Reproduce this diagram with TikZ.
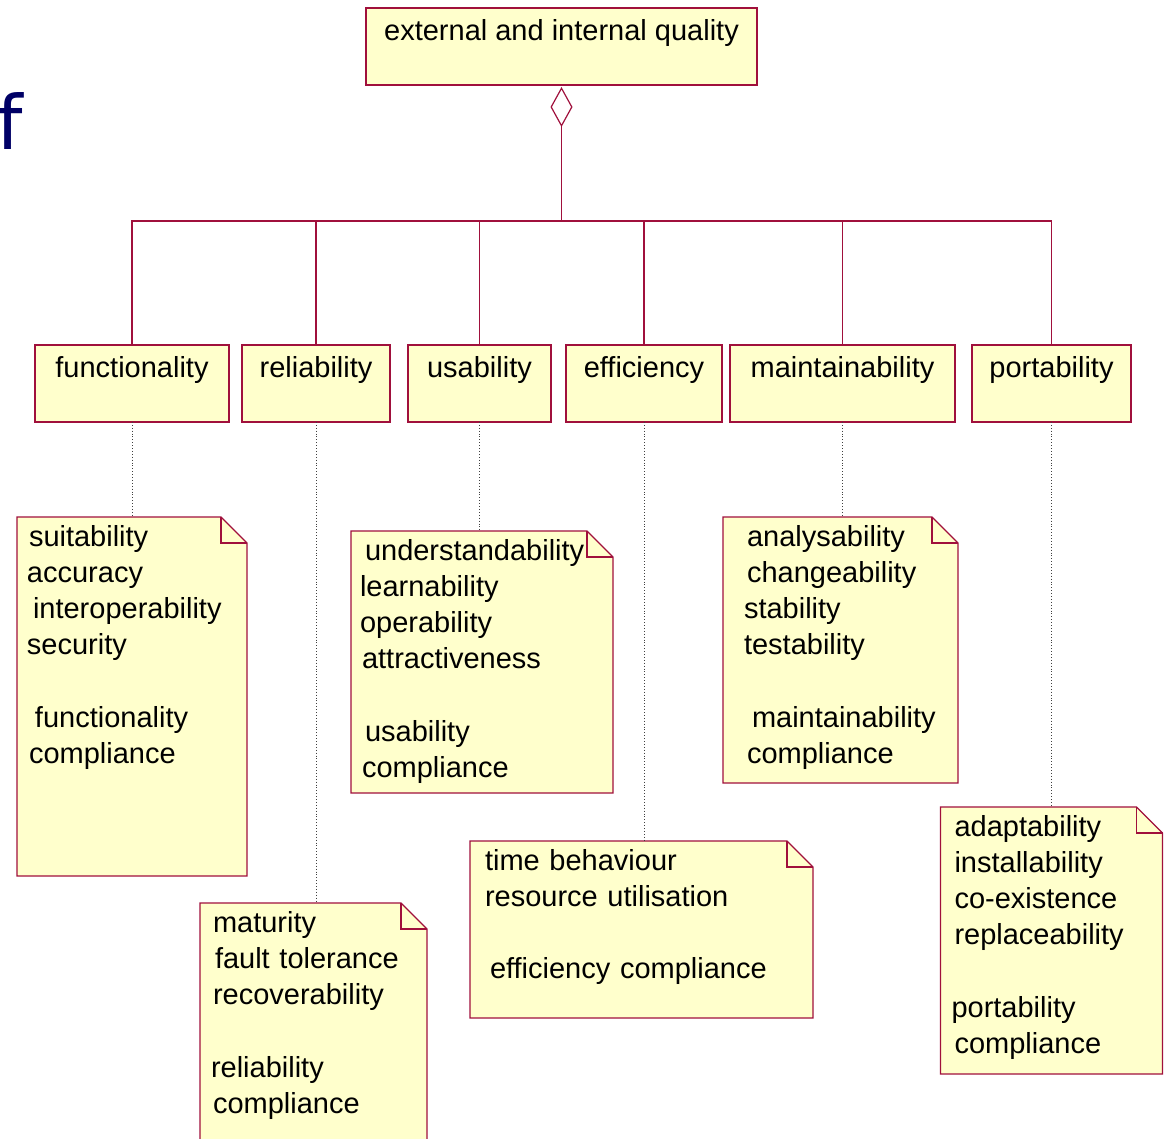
\documentclass[tikz,border=0pt]{standalone}
\usepackage{fontspec}
\setmainfont{Liberation Sans}
\newfontfamily\titlefont{DejaVu Sans}
\usetikzlibrary{arrows.meta, positioning, calc, backgrounds}
\definecolor{notecream}{HTML}{FFFFCC}
\definecolor{umlcrimson}{HTML}{A0103C}
\definecolor{slidenavy}{HTML}{000066}

\begin{document}
\begin{tikzpicture}[x=1pt, y=-1pt,
    font=\fontsize{29}{36.3}\selectfont,
    qbox/.style={rectangle, draw=umlcrimson, fill=notecream, line width=1.2pt, outer sep=0pt,
      inner xsep=4pt, inner ysep=12pt, text height=21pt, text depth=32pt, align=center},
    note/.style={rectangle, outer sep=0pt, inner xsep=10pt, inner ysep=0pt, text height=29pt, align=left},
    notepaper/.style={draw=umlcrimson, fill=notecream, line width=1.2pt},
    link/.style={draw=umlcrimson, line width=1.2pt},
    hint/.style={draw=black!75, dotted, line width=0.9pt}]

    \useasboundingbox (0,0) rectangle (1165,1139);

    % slide title, cut at the left edge
    \node (ttl) [anchor=base west, inner sep=0pt, text=slidenavy,
      font=\titlefont\fontsize{75}{75}\selectfont] at (-4,150) {f};

    \node (quality) [qbox, anchor=north west, minimum width=391pt] at (366,8) {external and internal quality};

    % characteristics
    \node (fun) [qbox, anchor=north west, minimum width=194pt] at (35,345) {functionality};
    \node (rel) [qbox, right=13pt of fun, minimum width=148pt] {reliability};
    \node (use) [qbox, right=18pt of rel, minimum width=143pt] {usability};
    \node (eff) [qbox, right=15pt of use, minimum width=156pt] {efficiency};
    \node (mnt) [qbox, right=8pt of eff, minimum width=225pt] {maintainability};
    \node (prt) [qbox, right=17pt of mnt, minimum width=159pt] {portability};

    \coordinate (hub) at ($(quality.south)+(0,-136pt)$);
    \draw [link, line width=1.8pt, {Diamond[open, line width=1.2pt, length=40pt, width=22pt]}-, shorten <=2pt]
      (quality.south) -- (hub);
    \foreach \c in {fun,rel,use,eff,mnt,prt}
      \draw [link] (hub) -| (\c.north);

    % sub-characteristics
    \node (nfun) [note, below=95pt of fun, text width=210pt, text depth=330pt]
      {\hspace*{2pt}suitability\\accuracy\\\hspace*{6pt}interoperability\\security\\[\baselineskip]\hspace*{8pt}functionality\\\hspace*{2pt}compliance};
    \node (nrel) [note, below=481pt of rel, xshift=-2.5pt, inner xsep=11pt, text width=205pt, text depth=221pt]
      {\hspace*{2pt}maturity\\\hspace*{4pt}fault tolerance\\\hspace*{2pt}recoverability\\[\baselineskip]reliability\\\hspace*{2pt}compliance};
    \node (nuse) [note, below=109pt of use, xshift=2.5pt, inner xsep=9pt, text width=244pt, text depth=233pt]
      {\hspace*{5pt}understandability\\learnability\\operability\\\hspace*{2pt}attractiveness\\[\baselineskip]\hspace*{5pt}usability\\\hspace*{2pt}compliance};
    \node (neff) [note, below=419pt of eff, xshift=-2.5pt, inner xsep=15pt, text width=313pt, text depth=148pt]
      {time behaviour\\resource utilisation\\[\baselineskip]\hspace*{5pt}efficiency compliance};
    \node (nmnt) [note, below=95pt of mnt, xshift=-2pt, inner xsep=21pt, text width=193pt, text depth=237pt]
      {\hspace*{3pt}analysability\\\hspace*{3pt}changeability\\stability\\testability\\[\baselineskip]\hspace*{8pt}maintainability\\\hspace*{3pt}compliance};
    \node (nprt) [note, below=385pt of prt, inner xsep=11pt, text width=200pt, text depth=238pt]
      {\hspace*{3pt}adaptability\\\hspace*{3pt}installability\\\hspace*{3pt}co-existence\\\hspace*{3pt}replaceability\\[\baselineskip]portability\\\hspace*{3pt}compliance};

    \begin{scope}[on background layer]
      \foreach \n in {nfun,nrel,nuse,neff,nmnt,nprt} {
        \filldraw [notepaper] (\n.north west) -- ([xshift=-26pt]\n.north east) -- ([yshift=-26pt]\n.north east)
          -- (\n.south east) -- (\n.south west) -- cycle;
        \draw [notepaper, fill=none] ([xshift=-26pt]\n.north east) |- ([yshift=-26pt]\n.north east);
      }
    \end{scope}

    \foreach \c/\n in {fun/nfun, rel/nrel, use/nuse, eff/neff, mnt/nmnt, prt/nprt}
      \draw [hint] (\c.south) -- (\c.south |- \n.north);
\end{tikzpicture}
\end{document}
